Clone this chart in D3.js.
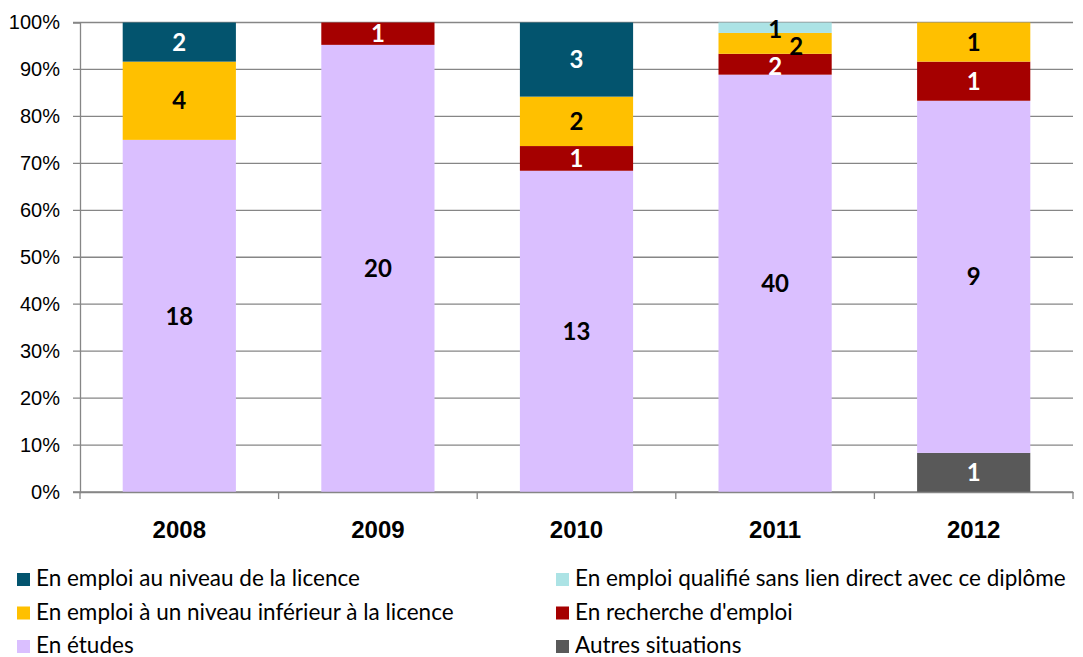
<!DOCTYPE html>
<html lang="fr">
<head>
  <meta charset="UTF-8">
  <style>
    body { margin: 0; background: #fff; }
    svg { font-family: Lato, "Open Sans", sans-serif; }
    .tick text { font-size: 20px; fill: #000; }
    .tick text.xlab { font-size: 24px; font-weight: bold; }
    .val { font-size: 24px; font-weight: bold; text-anchor: middle; }
    .leg { font-size: 22.5px; }
  </style>
</head>
<body>
<script src="https://d3js.org/d3.v7.min.js"></script>
<svg></svg>
<script>
// data
const years = ["2008", "2009", "2010", "2011", "2012"];
const seriesNames = [
  "Autres situations",
  "En études",
  "En recherche d'emploi",
  "En emploi à un niveau inférieur à la licence",
  "En emploi qualifié sans lien direct avec ce diplôme",
  "En emploi au niveau de la licence"
];
const autres    = [0, 0, 0, 0, 1];
const etudes    = [18, 20, 13, 40, 9];
const recherche = [0, 1, 1, 2, 1];
const inferieur = [4, 0, 2, 2, 1];
const qualifie  = [0, 0, 0, 1, 0];
const licence   = [2, 0, 3, 0, 0];
const yTicks = [0, 0.1, 0.2, 0.3, 0.4, 0.5, 0.6, 0.7, 0.8, 0.9, 1];

const colors = ["#595959", "#DABFFF", "#A50000", "#FFC000", "#ACE3E5", "#03546E"];
const whiteText = [true, false, true, false, false, true];
// legend order as in the original (two columns)
const legendOrder = [5, 4, 3, 2, 1, 0];

const w = 1083, h = 657;
const mLeft = 80, mRight = 1073, mTop = 22.5, mBottom = 492;

const svg = d3.select("svg").attr("width", w).attr("height", h);

const rows = years.map((yr, i) => {
  const vals = [autres[i], etudes[i], recherche[i], inferieur[i], qualifie[i], licence[i]];
  const tot = d3.sum(vals);
  const r = { year: yr };
  vals.forEach((v, k) => r["s" + k] = v / tot);
  r.counts = vals;
  return r;
});

const keys = seriesNames.map((d, k) => "s" + k);
const stacked = d3.stack().keys(keys)(rows);

const x = d3.scaleBand().domain(years).range([mLeft, mRight]).paddingInner(0.43).paddingOuter(0.215);
const y = d3.scaleLinear().domain([0, 1]).range([mBottom, mTop]);

// gridlines
svg.append("g")
  .selectAll("line")
  .data(yTicks)
  .join("line")
  .attr("x1", mLeft - 7).attr("x2", mRight)
  .attr("y1", d => y(d)).attr("y2", d => y(d))
  .attr("stroke", "#868686").attr("stroke-width", 1.3);

// y axis
const yAx = svg.append("g")
  .attr("transform", `translate(${mLeft},0)`)
  .call(d3.axisLeft(y).tickValues(yTicks).tickFormat(d3.format(".0%")).tickSize(7).tickPadding(13));
yAx.select(".domain").attr("stroke", "#868686").attr("stroke-width", 1.3);
yAx.selectAll(".tick line").remove();

// bars
const layer = svg.append("g")
  .selectAll("g")
  .data(stacked)
  .join("g")
  .attr("fill", (d, k) => colors[k]);

layer.selectAll("rect")
  .data(d => d)
  .join("rect")
  .attr("x", d => x(d.data.year))
  .attr("width", x.bandwidth())
  .attr("y", d => y(d[1]))
  .attr("height", d => y(d[0]) - y(d[1]));

// x axis
const xAx = svg.append("g")
  .attr("transform", `translate(0,${mBottom})`)
  .call(d3.axisBottom(x).tickSize(0).tickPadding(29));
xAx.select(".domain").attr("stroke", "#868686").attr("stroke-width", 1.3);
xAx.selectAll(".tick text").attr("class", "xlab");

// category separators on the x axis
const step = x.step();
svg.append("g")
  .selectAll("line")
  .data(d3.range(years.length + 1))
  .join("line")
  .attr("x1", i => mLeft + i * step).attr("x2", i => mLeft + i * step)
  .attr("y1", mBottom).attr("y2", mBottom + 7)
  .attr("stroke", "#868686").attr("stroke-width", 1.3);

// value labels
stacked.forEach((s, k) => {
  s.forEach((d, i) => {
    const c = d.data.counts[k];
    if (!c) return;
    let cx = x(d.data.year) + x.bandwidth() / 2;
    let cy = y((d[0] + d[1]) / 2);
    // Excel nudged the crowded 2011 labels
    if (d.data.year === "2011" && k === 3) { cx += 21; cy += 3; }
    if (d.data.year === "2011" && k === 4) { cy += 2; }
    if (d.data.year === "2011" && k === 2) { cy += 2; }
    svg.append("text")
      .attr("class", "val")
      .attr("x", cx).attr("y", cy)
      .attr("dy", "0.36em")
      .attr("fill", whiteText[k] ? "#fff" : "#000")
      .text(c);
  });
});

// legend
const leg = svg.append("g");
legendOrder.forEach((k, j) => {
  const col = j % 2, row = Math.floor(j / 2);
  const lx = col === 0 ? 17 : 556;
  const ly = 579 + row * 33.5;
  leg.append("rect").attr("x", lx).attr("y", ly - 6).attr("width", 13).attr("height", 13).attr("fill", colors[k]);
  leg.append("text").attr("class", "leg").attr("x", lx + 19).attr("y", ly).attr("dy", "0.33em").text(seriesNames[k]);
});
</script>
</body>
</html>
